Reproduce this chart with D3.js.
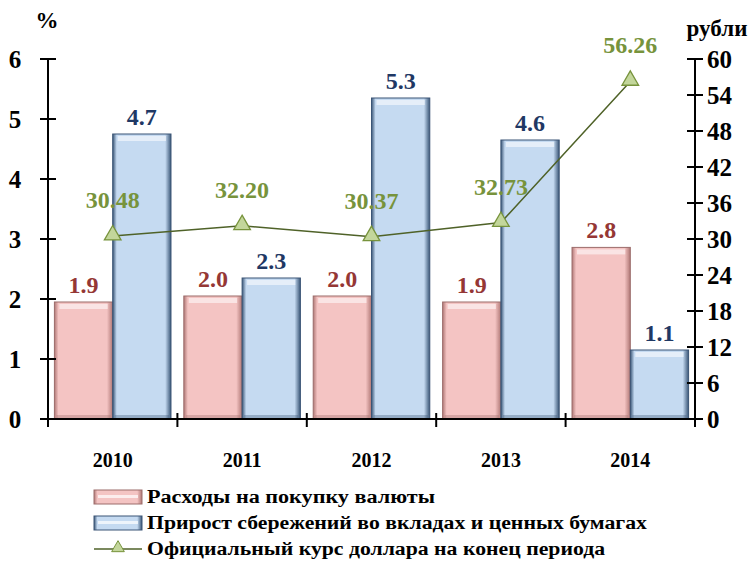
<!DOCTYPE html>
<html lang="ru">
<head>
    <meta charset="UTF-8">
    <title>Chart</title>
    <script src="https://d3js.org/d3.v7.min.js"></script>
    <style>
        body { margin: 0; background: #fff; }
        svg text { font-family: "Liberation Serif", serif; font-weight: bold; }
        .tick-label { font-size: 25px; fill: #000; }
        .cat-label { font-size: 20px; text-anchor: middle; fill: #000; }
        .legend-label { font-size: 18px; fill: #000; }
    </style>
</head>
<body>
<script>
    // data
    let years = ["2010", "2011", "2012", "2013", "2014"];
    let currencySpend = [1.95, 2.05, 2.05, 1.95, 2.86];
    let currencyLabels = ["1.9", "2.0", "2.0", "1.9", "2.8"];
    let savingsGrowth = [4.75, 2.35, 5.35, 4.65, 1.15];
    let savingsLabels = ["4.7", "2.3", "5.3", "4.6", "1.1"];
    let usdRate = [30.48, 32.20, 30.37, 32.73, 56.26];
    let usdLabels = ["30.48", "32.20", "30.37", "32.73", "56.26"];
    let leftTicks = [0, 1, 2, 3, 4, 5, 6];
    let rightTicks = [0, 6, 12, 18, 24, 30, 36, 42, 48, 54, 60];
    let seriesNames = [
        "Расходы на покупку валюты",
        "Прирост сбережений во вкладах и ценных бумагах",
        "Официальный курс доллара на конец периода"
    ];

    let width = 755, height = 562;
    let plotLeft = 48, plotRight = 695, plotTop = 59, plotBottom = 419;

    let svg = d3.select("body").append("svg")
        .attr("width", width)
        .attr("height", height);

    let defs = svg.append("defs");

    // bevel-like gradients
    function makeGrad(id, edge, mid) {
        let g = defs.append("linearGradient").attr("id", id)
            .attr("x1", "0").attr("x2", "1").attr("y1", "0").attr("y2", "0");
        g.append("stop").attr("offset", "0%").attr("stop-color", edge);
        g.append("stop").attr("offset", "7%").attr("stop-color", mid);
        g.append("stop").attr("offset", "90%").attr("stop-color", mid);
        g.append("stop").attr("offset", "100%").attr("stop-color", edge);
    }
    makeGrad("pinkGrad", "#b07876", "#f4c4c3");
    makeGrad("blueGrad", "#3a5677", "#c5daf1");

    let x0 = d3.scaleBand().domain(years).range([plotLeft, plotRight]).paddingInner(0).paddingOuter(0);
    let x1 = d3.scaleBand().domain(["a", "b"]).range([0, x0.bandwidth()]).paddingOuter(0.11).paddingInner(0);
    let yL = d3.scaleLinear().domain([0, 6]).range([plotBottom, plotTop]);
    let yR = d3.scaleLinear().domain([0, 60]).range([plotBottom, plotTop]);

    function drawBars(values, labels, key, grad, edge, labelColor) {
        years.forEach((yr, i) => {
            let bx = x0(yr) + x1(key);
            let bw = x1.bandwidth();
            let by = yL(values[i]);
            let bh = plotBottom - by;
            svg.append("rect")
                .attr("x", bx).attr("y", by).attr("width", bw).attr("height", bh)
                .attr("fill", "url(#" + grad + ")")
                .attr("stroke", edge).attr("stroke-width", 1);
            // top highlight
            svg.append("rect")
                .attr("x", bx + 5).attr("y", by + 2).attr("width", bw - 10).attr("height", 5)
                .attr("fill", "#fff").attr("opacity", 0.55);
            // bottom shade
            svg.append("rect")
                .attr("x", bx + 2).attr("y", plotBottom - 4).attr("width", bw - 4).attr("height", 4)
                .attr("fill", edge).attr("opacity", 0.35);
            svg.append("text")
                .attr("x", bx + bw / 2).attr("y", by - 9)
                .attr("text-anchor", "middle")
                .attr("font-size", 24)
                .attr("fill", labelColor)
                .text(labels[i]);
        });
    }

    drawBars(currencySpend, currencyLabels, "a", "pinkGrad", "#9c6c6b", "#953735");
    drawBars(savingsGrowth, savingsLabels, "b", "blueGrad", "#3b5576", "#1f3864");

    // left axis
    svg.append("line").attr("x1", plotLeft).attr("x2", plotLeft).attr("y1", plotTop).attr("y2", plotBottom + 8)
        .attr("stroke", "#000").attr("stroke-width", 2);
    leftTicks.forEach(t => {
        svg.append("line").attr("x1", plotLeft - 8).attr("x2", plotLeft + 8)
            .attr("y1", yL(t)).attr("y2", yL(t)).attr("stroke", "#000").attr("stroke-width", 2);
        svg.append("text").attr("class", "tick-label")
            .attr("x", 15).attr("y", yL(t) + 9).attr("text-anchor", "middle").text(t);
    });

    // right axis
    svg.append("line").attr("x1", plotRight).attr("x2", plotRight).attr("y1", plotTop).attr("y2", plotBottom + 8)
        .attr("stroke", "#000").attr("stroke-width", 2);
    rightTicks.forEach(t => {
        svg.append("line").attr("x1", plotRight - 8).attr("x2", plotRight + 8)
            .attr("y1", yR(t)).attr("y2", yR(t)).attr("stroke", "#000").attr("stroke-width", 2);
        svg.append("text").attr("class", "tick-label")
            .attr("x", 707).attr("y", yR(t) + 9).text(t);
    });

    // x axis
    svg.append("line").attr("x1", plotLeft - 8).attr("x2", plotRight + 8).attr("y1", plotBottom).attr("y2", plotBottom)
        .attr("stroke", "#000").attr("stroke-width", 2);
    years.forEach((yr, i) => {
        if (i > 0) {
            svg.append("line").attr("x1", x0(yr)).attr("x2", x0(yr))
                .attr("y1", plotBottom - 6).attr("y2", plotBottom + 8).attr("stroke", "#000").attr("stroke-width", 2);
        }
        svg.append("text").attr("class", "cat-label")
            .attr("x", x0(yr) + x0.bandwidth() / 2).attr("y", 467).text(yr);
    });

    // axis titles
    svg.append("text").attr("x", 47).attr("y", 28).attr("text-anchor", "middle")
        .attr("font-size", 23).text("%");
    svg.append("text").attr("x", 717).attr("y", 36).attr("text-anchor", "middle")
        .attr("font-size", 23).text("рубли");

    // line series
    let pts = years.map((yr, i) => [x0(yr) + x0.bandwidth() / 2, yR(usdRate[i])]);
    svg.append("path")
        .attr("d", d3.line()(pts))
        .attr("fill", "none").attr("stroke", "#4f6228").attr("stroke-width", 1.5);
    let tri = d3.symbol().type(d3.symbolTriangle).size(120);
    pts.forEach((p, i) => {
        svg.append("path").attr("d", tri())
            .attr("transform", "translate(" + p[0] + "," + (p[1] - 1) + ")")
            .attr("fill", "#c3d69b").attr("stroke", "#77933c").attr("stroke-width", 1.3);
        svg.append("text")
            .attr("x", p[0]).attr("y", p[1] - 28)
            .attr("text-anchor", "middle").attr("font-size", 24)
            .attr("fill", "#77933c").text(usdLabels[i]);
    });

    // legend
    let lg = svg.append("g");
    let rowsY = [497, 523, 549];
    [["pinkGrad", "#9c6c6b"], ["blueGrad", "#3b5576"]].forEach((s, i) => {
        lg.append("rect").attr("x", 94).attr("y", rowsY[i] - 7).attr("width", 48).attr("height", 14)
            .attr("fill", "url(#" + s[0] + ")").attr("stroke", s[1]);
        lg.append("rect").attr("x", 98).attr("y", rowsY[i] - 2).attr("width", 40).attr("height", 3)
            .attr("fill", "#fff").attr("opacity", 0.7);
    });
    lg.append("line").attr("x1", 94).attr("x2", 142).attr("y1", rowsY[2]).attr("y2", rowsY[2])
        .attr("stroke", "#4f6228").attr("stroke-width", 1.5);
    lg.append("path").attr("d", d3.symbol().type(d3.symbolTriangle).size(70)())
        .attr("transform", "translate(118," + (rowsY[2] - 1) + ")")
        .attr("fill", "#c3d69b").attr("stroke", "#77933c");
    let legendLens = [288, 500, 458];
    seriesNames.forEach((n, i) => {
        lg.append("text").attr("class", "legend-label")
            .attr("x", 147).attr("y", rowsY[i] + 6)
            .attr("textLength", legendLens[i]).attr("lengthAdjust", "spacingAndGlyphs")
            .text(n);
    });
</script>
</body>
</html>
